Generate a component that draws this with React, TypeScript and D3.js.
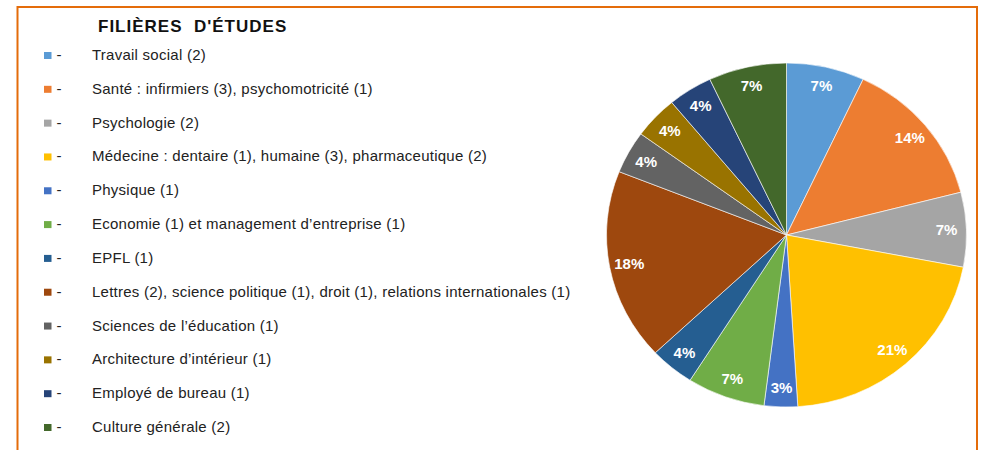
import React, { useEffect, useRef } from 'react';
import * as d3 from 'd3';

// filières et pourcentages
const categories = [
  'Travail social (2)',
  'Santé : infirmiers (3), psychomotricité (1)',
  'Psychologie (2)',
  'Médecine : dentaire (1), humaine (3), pharmaceutique (2)',
  'Physique (1)',
  'Economie (1) et management d’entreprise (1)',
  'EPFL (1)',
  'Lettres (2), science politique (1), droit (1), relations internationales (1)',
  'Sciences de l’éducation (1)',
  'Architecture d’intérieur (1)',
  'Employé de bureau (1)',
  'Culture générale (2)',
];
const percents = [7, 14, 7, 21, 3, 7, 4, 18, 4, 4, 4, 7];
const colors = [
  '#5B9BD5', '#ED7D31', '#A5A5A5', '#FFC000', '#4472C4', '#70AD47',
  '#255E91', '#9E480E', '#636363', '#997300', '#264478', '#43682B',
];
const title = "FILIÈRES  D'ÉTUDES";

const W = 982;
const H = 450;
const FONT = "'Liberation Sans', Arial, sans-serif";

function App() {
  const svgRef = useRef<SVGSVGElement>(null);

  useEffect(() => {
    const svg = d3.select(svgRef.current);
    svg.selectAll('*').remove();

    // cadre orange
    svg.append('rect')
      .attr('x', 17.5).attr('y', 7)
      .attr('width', 959.5).attr('height', 460)
      .attr('fill', 'none')
      .attr('stroke', '#E46C0A')
      .attr('stroke-width', 2);

    // titre
    svg.append('text')
      .attr('x', 98).attr('y', 31.5)
      .attr('font-family', FONT)
      .attr('font-weight', 'bold')
      .attr('font-size', 17)
      .attr('letter-spacing', 1)
      .attr('fill', '#111')
      .style('white-space', 'pre')
      .text(title);

    // légende
    const y = d3.scalePoint<number>()
      .domain(d3.range(categories.length))
      .range([55, 427]);

    const rows = svg.append('g').selectAll('g')
      .data(categories)
      .enter().append('g')
      .attr('transform', (_, i) => `translate(0,${y(i)})`);

    rows.append('rect')
      .attr('x', 44).attr('y', -3)
      .attr('width', 7.5).attr('height', 7)
      .attr('fill', (_, i) => colors[i]);

    rows.append('text')
      .attr('x', 56.5).attr('y', 5)
      .attr('font-family', FONT)
      .attr('font-size', 15)
      .attr('fill', '#222')
      .text('-');

    rows.append('text')
      .attr('x', 92).attr('y', 5)
      .attr('font-family', FONT)
      .attr('font-size', 15)
      .attr('letter-spacing', 0.25)
      .attr('fill', '#222')
      .text(d => d);

    // camembert
    const cx = 786.5, cy = 235, r = 172, rx = 180;
    const sx = rx / r;
    const pie = d3.pie<number>().sort(null).value(d => d);
    const arcs = pie(percents);
    const arc = d3.arc<d3.PieArcDatum<number>>().innerRadius(0).outerRadius(r);

    svg.append('g')
      .attr('transform', `translate(${cx},${cy}) scale(${sx},1)`)
      .selectAll('path')
      .data(arcs)
      .enter().append('path')
      .attr('d', arc)
      .attr('fill', (_, i) => colors[i])
      .attr('stroke', '#ffffff')
      .attr('stroke-opacity', 0.6)
      .attr('stroke-width', 1)
      .attr('vector-effect', 'non-scaling-stroke');

    // étiquettes
    const lr = 153;
    svg.append('g')
      .selectAll('text')
      .data(arcs)
      .enter().append('text')
      .attr('x', d => cx + sx * lr * Math.sin((d.startAngle + d.endAngle) / 2))
      .attr('y', d => cy - lr * Math.cos((d.startAngle + d.endAngle) / 2))
      .attr('dy', '0.35em')
      .attr('text-anchor', 'middle')
      .attr('font-family', FONT)
      .attr('font-weight', 'bold')
      .attr('font-size', 15)
      .attr('fill', '#ffffff')
      .text(d => `${d.data}%`);
  }, []);

  return (
    <svg ref={svgRef} width={W} height={H}
      style={{ position: 'absolute', left: 0, top: 0, background: '#fff' }}></svg>
  );
}

export default App;
